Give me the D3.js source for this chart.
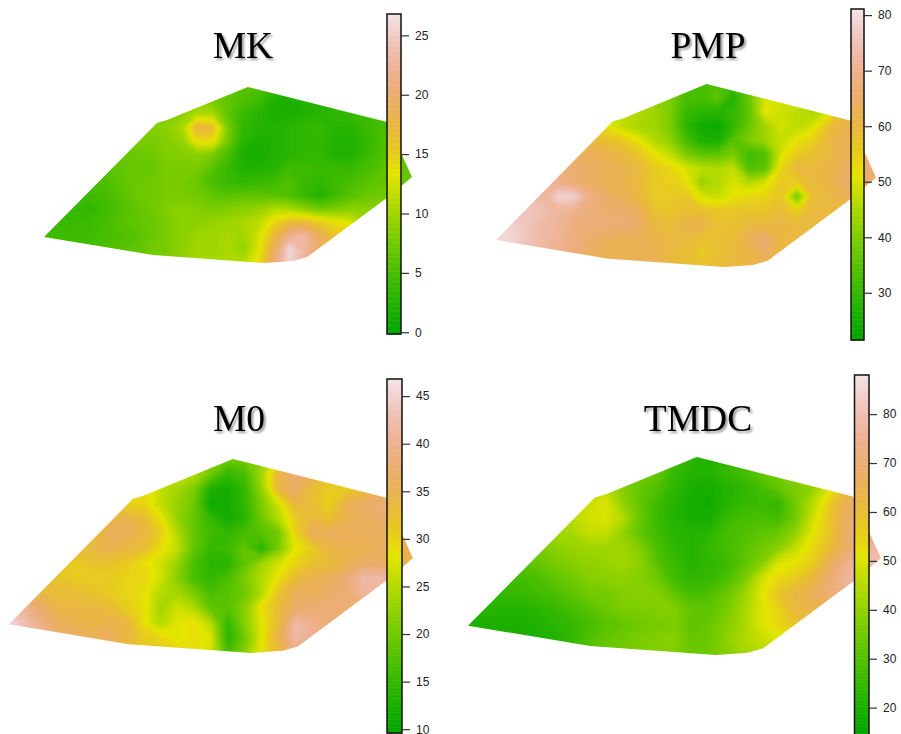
<!DOCTYPE html>
<html>
<head>
<meta charset="utf-8">
<script src="https://d3js.org/d3.v7.min.js"></script>
<style>
  body { margin: 0; background: #fff; }
  .title { font-family: "Liberation Serif", serif; font-size: 37.5px; text-anchor: middle; filter: drop-shadow(2px 2px 1.2px #999); }
  .tick text { font-family: "Liberation Sans", sans-serif; font-size: 12px; fill: #222; }
  .tick line { stroke: #333; stroke-width: 1.2; }
</style>
</head>
<body>
<script>
// outline of the study area, in map units (0-1 east and south across its extent)
var outlineX = [0, 0.307, 0.334, 0.554, 0.932, 1, 0.935, 0.715, 0.677, 0.6, 0.296];
var outlineY = [0.852, 0.205, 0.188, 0, 0.199, 0.511, 0.625, 0.966, 0.989, 1, 0.955];

// surfaces, 25 columns by 14 rows
var mkValues = [
  [7,7,7,7,7,7,7,7,7,7,7,7,6.5,6,5.5,4,3,3,3,3,4,4,5,5,5],
  [8,8,8,8,8,8,8,8,8,8,8.5,8,6.5,5.5,4.5,2.5,2,2.5,3,3,4,4,5,5,5],
  [8,8,8,8,8,8,8,8,8.5,9,11,10.5,6.5,4,3,2,2,2.5,3,3.5,4,4.5,5,5,5],
  [8.5,8.5,8.5,8.5,8.5,8.5,8.5,8.5,9,10.5,18,17,8,3.5,3,2.5,3,3.5,4,3,3,4,5,5.5,5.5],
  [8,8,8,8,8,8,8,8,8.5,9.5,14,14,7.5,3,2,2.5,3,3.5,3.5,2.5,2.5,3.5,5,6,6],
  [7,7,7,7,7,7,7,7.5,8.5,8.5,9,8,5,2,1.5,2.5,3,3.5,3.5,2.5,2.5,4,5.5,6,6],
  [6,6,6,6,6,6.5,7,7,8,8,8,6,4,2.5,2.5,3,4.5,4.5,4,4,4,5,6,6.5,6.5],
  [5,5,5,5,5.5,6.5,7,7.5,8,8,7,5,4,3.5,4,4.5,5.5,4,3.5,4.5,5,6,6.5,7,7],
  [4,4,4,4.5,5,6,7,7.5,8,8,7.5,6.5,6,6.5,6.5,6,5.5,4,2.5,4.5,6,7,7.5,7.5,7.5],
  [4,4,4,3.5,4.5,5.5,6.5,7.5,8.5,9,8.5,8,8.5,9,9.5,11,10.5,9,7.5,8,9,9,9,9,9],
  [4,4,4,4.5,5,6,6.5,7,8,9,9,9.5,10,10.5,11.5,14.5,17,17,15.5,14,13,10,9,9,9],
  [4.5,4.5,4.5,4.5,5,5.5,6,7,8,9,10,10,10.5,10,12.5,17,22,23,19,16,15,13,10,9,9],
  [5,5,5,5,5.5,6,6.5,7.5,8,9,10,10,10.5,9.5,13,19,26,23,19,17,15,13,10,9,9],
  [5,5,5,5,6,6.5,7,8,8.5,9.5,10.5,10.5,11,11,14,20,26,22,19,17,15,13,10,9,9]
];
var pmpValues = [
  [60,60,60,60,55,52,50,47,45,42,38,36,34,32,34,32,38,45,50,50,50,52,60,62,62],
  [62,62,62,60,55,52,50,48,46,44,42,40,33,33,36,28,38,50,50,50,50,52,60,62,62],
  [62,62,62,60,58,55,52,50,47,46,44,40,31,29,28,30,36,52,49,47,45,50,60,62,62],
  [64,64,64,62,60,58,56,52,48,45,44,40,29,25,24,30,38,44,50,47,50,58,62,64,64],
  [66,66,66,64,62,60,60,58,56,52,46,42,33,27,26,35,40,44,48,52,55,60,63,64,64],
  [68,68,68,66,65,64,64,62,60,57,52,48,40,36,36,40,32,34,50,56,58,60,63,65,66],
  [70,70,70,68,68,66,65,63,62,60,56,54,50,47,46,48,34,36,54,60,60,61,64,66,67],
  [72,72,72,71,70,67,65,63,62,60,56,55,53,43,46,50,46,50,56,56,60,61,65,66,67],
  [76,76,74,72,79,78,69,65,63,60,56,56,57,50,48,52,54,54,57,38,59,60,63,64,64],
  [76,76,76,75,72,70,68,66,66,64,58,57,58,58,57,57,57,57,59,55,60,60,60,60,60],
  [79,78,76,73,72,68,67,67,67,66,60,59,62,62,58,58,60,60,61,60,60,60,60,60,60],
  [80,79,76,73,71,68,66,64,63,63,62,60,60,58,58,59,63,67,60,60,60,60,60,60,60],
  [78,76,74,72,70,68,64,63,63,63,63,60,59,56,58,60,61,65,60,60,60,60,60,60,60],
  [76,74,72,70,68,66,63,62,62,62,62,60,59,58,59,60,61,62,60,60,60,60,60,60,60]
];
var m0Values = [
  [30,30,30,30,30,30,30,30,29,28,26,24,22,20,20,22,28,36,36,34,34,36,37,37,37],
  [30,30,30,30,30,30,30,30,29,28,26,25,20,15,17,24,34,38,35,33,33,34,36,37,37],
  [32,32,32,32,32,32,32,31,30,26,24,21,13,12,15,23,34,37,33,31,31,32,35,37,37],
  [33,33,33,33,33,33,33,30,30,26,23,20,11,12,15,21,27,34,33,30,35,37,38,38,38],
  [34,34,34,34,34,34,34,35,33,29,23,19,15,12,14,20,25,31,34,32,35,36,37,37,37],
  [34,34,34,34,34,33,36,36,34,31,25,19,16,15,17,18,20,30,36,36,36,36,36,36,36],
  [33,33,33,33,33,34,35,34,33,29,26,19,15,16,19,14,21,28,31,34,35,35,36,36,35],
  [31,31,31,31,31,32,32,31,29,27,23,17,14,14,19,24,27,30,32,33,35,37,37,35,35],
  [32,32,32,32,31,31,31,30,30,27,22,17,15,17,21,25,29,33,35,36,38,42,42,40,40],
  [35,35,34,33,33,32,31,30,29,25,24,21,17,18,20,25,32,36,36,37,38,41,41,40,40],
  [41,40,37,34,34,34,33,31,29,24,27,25,19,18,22,29,33,37,38,38,38,38,38,38,38],
  [46,43,39,36,35,34,35,34,29,25,28,29,25,15,22,28,33,42,40,38,38,38,38,38,38],
  [44,42,40,37,37,36,36,34,31,30,28,29,28,14,20,28,35,42,40,38,38,38,38,38,38],
  [44,42,40,37,36,36,35,34,32,31,30,29,27,17,22,29,33,38,38,38,38,38,38,38,38]
];
var tmdcValues = [
  [40,40,40,42,44,44,44,44,44,40,36,30,26,24,21,24,26,28,30,32,38,45,55,62,65],
  [40,40,40,42,44,44,44,44,44,40,38,34,25,22,22,25,28,33,36,38,42,48,58,65,68],
  [44,44,44,44,45,46,46,46,46,38,33,30,24,20,19,22,24,28,33,37,40,50,60,66,70],
  [44,44,44,44,45,46,46,48,50,40,33,27,22,19,18,22,25,26,25,35,45,56,66,68,72],
  [42,42,42,42,43,44,45,49,50,45,34,26,22,19,19,25,28,29,27,35,48,58,68,70,72],
  [40,40,40,40,41,42,43,47,47,40,33,27,23,22,23,28,30,32,34,40,51,58,69,73,75],
  [36,36,36,36,36,39,41,42,42,42,38,29,24,22,25,28,31,35,39,47,54,60,68,75,78],
  [32,32,32,32,33,36,38,40,41,42,40,31,26,22,24,26,32,38,50,52,56,66,74,80,80],
  [28,28,28,27,29,32,35,38,39,40,38,35,27,24,25,29,36,48,54,57,62,70,77,78,78],
  [25,25,25,25,27,29,32,35,36,38,39,38,33,28,30,34,41,50,58,62,66,71,74,74,74],
  [22,23,22,22,23,25,28,31,34,37,37,38,38,33,32,36,43,50,55,62,64,66,68,68,68],
  [20,20,20,20,21,23,25,28,31,33,35,36,37,32,34,38,43,50,54,58,60,60,60,60,60],
  [20,20,20,20,21,22,24,30,33,35,37,38,39,33,34,40,44,47,50,52,54,54,54,54,54],
  [20,20,20,20,21,23,26,31,34,36,37,38,37,34,35,38,42,44,46,48,50,50,50,50,50]
];

var mkTicks = [0, 5, 10, 15, 20, 25];
var pmpTicks = [30, 40, 50, 60, 70, 80];
var m0Ticks = [10, 15, 20, 25, 30, 35, 40, 45];
var tmdcTicks = [20, 30, 40, 50, 60, 70, 80];

var mkRange = [-0.15, 26.8];
var pmpRange = [21.5, 81.1];
var m0Range = [9.6, 46.8];
var tmdcRange = [14.2, 88];

var svg = d3.select("body").append("svg")
    .attr("width", 901)
    .attr("height", 734)
    .style("display", "block");

// takes the stair-steps out of the contour bands
svg.append("filter").attr("id", "soften")
    .attr("x", "-5%").attr("y", "-5%").attr("width", "110%").attr("height", "110%")
    .append("feGaussianBlur").attr("stdDeviation", 1.3);

// R's terrain.colors: hsv ramp through green, yellow, tan, to near white
function terrain(t) {
    var h, s, v;
    if (t < 0.5) {
        h = 4 / 12 - (t / 0.5) * (2 / 12);
        s = 1;
        v = 0.65 + (t / 0.5) * 0.25;
    } else {
        var k = (t - 0.5) / 0.5;
        h = 2 / 12 * (1 - k);
        s = 1 - k * 0.95;
        v = 0.9 + k * 0.05;
    }
    var i = Math.floor(h * 6), f = h * 6 - i;
    var p = v * (1 - s), q = v * (1 - f * s), u = v * (1 - (1 - f) * s);
    var rgb = [[v, u, p], [q, v, p], [p, v, u]][i % 3];
    return d3.rgb(rgb[0] * 255, rgb[1] * 255, rgb[2] * 255).formatHex();
}

function drawPanel(id, name, values, ticks, range, map, bar, title) {
    var rows = values.length, cols = values[0].length;
    var color = d3.scaleSequential(terrain).domain(range).clamp(true);

    // map units to page pixels
    var x = d3.scaleLinear().domain([0, 1]).range(map.x);
    var y = d3.scaleLinear().domain([0, 1]).range(map.y);

    svg.append("clipPath").attr("id", "clip-" + id)
        .append("polygon")
        .attr("points", outlineX.map(function(d, i) { return x(d) + "," + y(outlineY[i]); }).join(" "));

    // grid cells sit at pixel centres in d3.contours, so shift by half a cell
    var project = d3.geoTransform({
        point: function(px, py) {
            this.stream.point(x((px - 0.5) / (cols - 1)), y((py - 0.5) / (rows - 1)));
        }
    });
    var path = d3.geoPath(project);

    var levels = d3.range(0, 120).map(function(i) { return range[0] + (range[1] - range[0]) * i / 120; });
    var bands = d3.contours().size([cols, rows]).thresholds(levels)(values.flat());

    svg.append("g")
        .attr("clip-path", "url(#clip-" + id + ")")
        .append("g")
        .attr("filter", "url(#soften)")
        .selectAll("path")
        .data(bands)
        .join("path")
        .attr("d", path)
        .attr("fill", function(d) { return color(d.value); });

    // colour bar
    var barY = d3.scaleLinear().domain(range).range([bar.bottom, bar.top]);
    var steps = d3.range(0, 255).map(function(i) { return range[0] + (range[1] - range[0]) * i / 255; });
    var stepSize = (range[1] - range[0]) / 255;
    var legend = svg.append("g");
    legend.selectAll("rect")
        .data(steps)
        .join("rect")
        .attr("x", bar.left)
        .attr("width", bar.right - bar.left)
        .attr("y", function(d) { return barY(d + stepSize); })
        .attr("height", function(d) { return barY(d) - barY(d + stepSize) + 0.5; })
        .attr("fill", function(d) { return color(d); });
    legend.append("rect")
        .attr("x", bar.left)
        .attr("y", bar.top)
        .attr("width", bar.right - bar.left)
        .attr("height", bar.bottom - bar.top)
        .attr("fill", "none")
        .attr("stroke", "#111")
        .attr("stroke-width", 1.5);

    var axis = svg.append("g")
        .attr("transform", "translate(" + bar.right + ",0)")
        .call(d3.axisRight(barY).tickValues(ticks).tickFormat(d3.format("d")).tickSize(8).tickPadding(6));
    axis.select(".domain").remove();

    svg.append("text")
        .attr("class", "title")
        .attr("x", title.x)
        .attr("y", title.y)
        .text(name);
}

drawPanel("mk", "MK", mkValues, mkTicks, mkRange,
    { x: [44, 412], y: [87, 263] }, { left: 387, right: 401, top: 14, bottom: 334 }, { x: 243, y: 58 });
drawPanel("pmp", "PMP", pmpValues, pmpTicks, pmpRange,
    { x: [496, 876], y: [84, 267] }, { left: 851, right: 864, top: 9, bottom: 340 }, { x: 708, y: 58 });
drawPanel("m0", "M0", m0Values, m0Ticks, m0Range,
    { x: [9, 413], y: [459, 653] }, { left: 387, right: 402, top: 379, bottom: 733 }, { x: 239, y: 431 });
drawPanel("tmdc", "TMDC", tmdcValues, tmdcTicks, tmdcRange,
    { x: [468, 881], y: [457, 655] }, { left: 854.5, right: 869, top: 375, bottom: 736 }, { x: 698, y: 431 });
</script>
</body>
</html>
